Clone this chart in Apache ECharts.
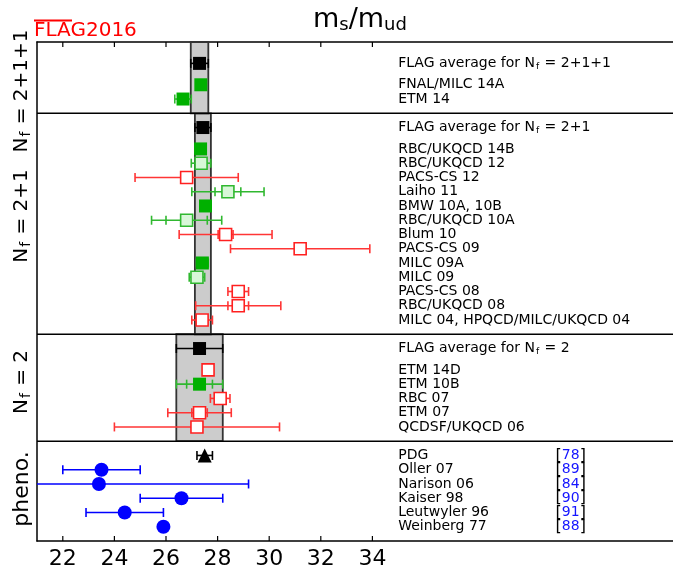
<!DOCTYPE html>
<html><head><meta charset="utf-8">
<script src="https://cdn.jsdelivr.net/npm/echarts@6/dist/echarts.min.js"></script>
<style>html,body{margin:0;padding:0;background:#fff}#c{width:673px;height:572px}</style>
</head><body><div id="c"></div>
<script>
// ---------------- data ----------------
const xTicks = [22, 24, 26, 28, 30, 32, 34];

const phenoNames  = ["PDG", "Oller 07", "Narison 06", "Kaiser 98", "Leutwyler 96", "Weinberg 77"];
const phenoValues = [27.5, 23.5, 23.4, 26.6, 24.4, 25.9];
const phenoErr    = [0.3, 1.5, 5.8, 1.6, 1.5, 0];
const phenoRefs   = ["78", "89", "84", "90", "91", "88"];

const nf2Names   = ["ETM 14D", "ETM 10B", "RBC 07", "ETM 07", "QCDSF/UKQCD 06"];
const nf2Values  = [27.63, 27.3, 28.1, 27.3, 27.2];
const nf2ErrStat = [0, 0.5, 0, 0.3, 0];
const nf2ErrTot  = [0.13, 0.9, 0.38, 1.23, 3.2];
const nf2Kind    = ["R", "G", "R", "R", "R"];
const nf2Avg     = [27.3, 0.9];

const nf21Names   = ["RBC/UKQCD 14B", "RBC/UKQCD 12", "PACS-CS 12", "Laiho 11", "BMW 10A, 10B",
                     "RBC/UKQCD 10A", "Blum 10", "PACS-CS 09", "MILC 09A", "MILC 09",
                     "PACS-CS 08", "RBC/UKQCD 08", "MILC 04, HPQCD/MILC/UKQCD 04"];
const nf21Values  = [27.34, 27.36, 26.8, 28.4, 27.53, 26.8, 28.31, 31.2, 27.41, 27.2, 28.8, 28.8, 27.4];
const nf21ErrStat = [0, 0, 0, 0.5, 0, 0.8, 0.29, 0, 0, 0, 0, 0.4, 0];
const nf21ErrTot  = [0.21, 0.38, 2.0, 1.4, 0.22, 1.36, 1.8, 2.7, 0.23, 0.3, 0.4, 1.65, 0.4];
const nf21Kind    = ["G", "L", "R", "L", "G", "L", "R", "R", "G", "L", "R", "R", "R"];
const nf21Avg     = [27.43, 0.31];

const nf211Names   = ["FNAL/MILC 14A", "ETM 14"];
const nf211Values  = [27.35, 26.66];
const nf211ErrStat = [0, 0];
const nf211ErrTot  = [0.08, 0.32];
const nf211Kind    = ["G", "G"];
const nf211Avg     = [27.30, 0.34];

// ---------------- layout / styling ----------------
const FONT = "DejaVu Sans";
const COL = {
  R: {fill: "#ffffff", border: "#ff2020", err: "#ff3535"},
  G: {fill: "#00b000", border: "#00b000", err: "#30b830"},
  L: {fill: "#d8f7d8", border: "#30b830", err: "#30b830"},
  K: {fill: "#000000", border: "#000000", err: "#000000"},
  B: {fill: "#0000ff", border: "#0000ff", err: "#0000ff"}
};
const palette = ["R", "G", "L", "K", "B"];

const LABEL_X = 35.0, REF_X = 41.1;

const errData = [], markers = {R: [], G: [], L: [], K: [], B: [], P: []};
const labels = [], bands = [], seps = [];

function addErr(v, y, et, es, kind) {
  errData.push([v, y, et || 0, es || 0, palette.indexOf(kind)]);
}

// pheno (bottom group)
let y = 0;
const phenoY = [];
for (let i = phenoNames.length - 1; i >= 0; i--) { y += 1; phenoY[i] = y; }
phenoNames.forEach((n, i) => {
  const k = i === 0 ? "K" : "B";
  if (phenoErr[i] > 0) addErr(phenoValues[i], phenoY[i], phenoErr[i], 0, k);
  (i === 0 ? markers.P : markers.B).push([phenoValues[i], phenoY[i]]);
  labels.push({x: LABEL_X, y: phenoY[i], text: n});
  labels.push({x: REF_X, y: phenoY[i], text: "{b|[}{n|" + phenoRefs[i] + "}{b|]}"});
});
let sep = y + 1;
seps.push(sep);

function addGroup(names, vals, es, et, kinds, avg, avgText, last) {
  const start = sep;
  let yy = sep;
  const ys = [];
  for (let i = names.length - 1; i >= 0; i--) { yy += 1; ys[i] = yy; }
  names.forEach((n, i) => {
    addErr(vals[i], ys[i], et[i], es[i], kinds[i]);
    markers[kinds[i]].push([vals[i], ys[i]]);
    labels.push({x: LABEL_X, y: ys[i], text: n});
  });
  const ay = yy + 1.5;
  addErr(avg[0], ay, avg[1], 0, "K");
  markers.K.push([avg[0], ay]);
  labels.push({x: LABEL_X, y: ay, text: "FLAG average for N{s|f}" + avgText});
  const end = last ? ay + 1.5 : ay + 1;
  bands.push([avg[0] - avg[1], avg[0] + avg[1], start, end]);
  if (!last) seps.push(end);
  sep = end;
}
addGroup(nf2Names, nf2Values, nf2ErrStat, nf2ErrTot, nf2Kind, nf2Avg, " = 2", false);
addGroup(nf21Names, nf21Values, nf21ErrStat, nf21ErrTot, nf21Kind, nf21Avg, " = 2+1", false);
addGroup(nf211Names, nf211Values, nf211ErrStat, nf211ErrTot, nf211Kind, nf211Avg, " = 2+1+1", true);
const Y_MAX = sep;

// ---------------- chart ----------------
const chart = echarts.init(document.getElementById("c"), null, {renderer: "canvas"});

function renderErr(params, api) {
  const c = api.value(0), yv = api.value(1), et = api.value(2), es = api.value(3);
  const color = COL[palette[api.value(4)]].err;
  const kids = [], cap = 4.5, lw = 1.6;
  function bar(e, line) {
    const a = api.coord([c - e, yv]), b = api.coord([c + e, yv]);
    if (line) kids.push({type: "line", shape: {x1: a[0], y1: a[1], x2: b[0], y2: b[1]}, style: {stroke: color, lineWidth: lw}});
    kids.push({type: "line", shape: {x1: a[0], y1: a[1] - cap, x2: a[0], y2: a[1] + cap}, style: {stroke: color, lineWidth: lw}});
    kids.push({type: "line", shape: {x1: b[0], y1: b[1] - cap, x2: b[0], y2: b[1] + cap}, style: {stroke: color, lineWidth: lw}});
  }
  if (et > 0) bar(et, true);
  if (es > 0) bar(es, false);
  return {type: "group", children: kids};
}

function renderBand(params, api) {
  const p1 = api.coord([api.value(0), api.value(3)]);
  const p2 = api.coord([api.value(1), api.value(2)]);
  return {type: "rect", shape: {x: p1[0], y: p1[1], width: p2[0] - p1[0], height: p2[1] - p1[1]},
          style: {fill: "#cccccc", stroke: "#333333", lineWidth: 1.8}};
}

function renderSep(params, api) {
  const cs = params.coordSys;
  const p = api.coord([21, api.value(0)]);
  return {type: "line", shape: {x1: cs.x, y1: p[1], x2: cs.x + cs.width, y2: p[1]},
          style: {stroke: "#000", lineWidth: 1.5}};
}

function renderTick(params, api) {
  const cs = params.coordSys;
  const x = api.coord([api.value(0), 0])[0];
  const st = {stroke: "#000", lineWidth: 1.2};
  return {type: "group", children: [
    {type: "line", shape: {x1: x, y1: cs.y, x2: x, y2: cs.y + 5}, style: st},
    {type: "line", shape: {x1: x, y1: cs.y + cs.height, x2: x, y2: cs.y + cs.height - 5}, style: st}
  ]};
}

function renderLabel(params, api) {
  const L = labels[params.dataIndex];
  const p = api.coord([L.x, L.y]);
  return {type: "text", x: p[0], y: p[1],
          style: {text: L.text, x: 0, y: 0, align: "left", verticalAlign: "middle",
                  fontFamily: FONT, fontSize: 14, fill: "#000",
                  rich: {
                    s: {fontFamily: FONT, fontSize: 9, padding: [6, 1, 0, 1]},
                    b: {fontFamily: FONT, fontSize: 16, fill: "#000"},
                    n: {fontFamily: FONT, fontSize: 14, fill: "#1515ff"}
                  }}};
}

function scatter(data, symbol, size, k, z) {
  return {type: "scatter", data: data, symbol: symbol, symbolSize: size, z: z || 6,
          itemStyle: {color: COL[k].fill, borderColor: COL[k].border, borderWidth: k === "R" || k === "L" ? 1.6 : 0, opacity: 1},
          emphasis: {disabled: true}, silent: true};
}

const axisCommon = {
  type: "value", min: 21, max: 46,
  axisLine: {show: true, lineStyle: {color: "#000", width: 1.5}},
  axisTick: {show: false},
  splitLine: {show: false}
};

chart.setOption({
  animation: false,
  backgroundColor: "#fff",
  grid: {left: 37, width: 645, top: 42, height: 499, containLabel: false, outerBoundsMode: "none"},
  xAxis: [
    Object.assign({}, axisCommon, {position: "bottom",
      axisLabel: {show: true, customValues: xTicks, fontFamily: FONT, fontSize: 22, color: "#000", margin: 7}}),
    Object.assign({}, axisCommon, {position: "top", axisLabel: {show: false}})
  ],
  yAxis: {type: "value", min: 0, max: Y_MAX, axisLine: {show: true, lineStyle: {color: "#000", width: 1.5}},
          axisTick: {show: false}, axisLabel: {show: false}, splitLine: {show: false}},
  series: [
    {type: "custom", renderItem: renderBand, data: bands, z: 1, silent: true},
    {type: "custom", renderItem: renderSep, data: seps.map(s => [s]), z: 3, silent: true, clip: false},
    {type: "custom", renderItem: renderTick, data: xTicks.map(t => [t]), z: 3, silent: true, clip: false},
    {type: "custom", renderItem: renderErr, data: errData, z: 4, silent: true, clip: true},
    scatter(markers.K, "rect", 13, "K"),
    scatter(markers.G, "rect", 13, "G"),
    scatter(markers.L, "rect", 12, "L"),
    scatter(markers.R, "rect", 12, "R"),
    scatter(markers.B, "circle", 14, "B"),
    scatter(markers.P, "triangle", 14, "K"),
    {type: "custom", renderItem: renderLabel, data: labels.map(l => [l.x, l.y]), z: 7, silent: true, clip: false}
  ],
  graphic: [
    {type: "text", x: 360, y: 20, style: {text: "m{s|s}/m{s|ud}", align: "center", verticalAlign: "middle",
      fontFamily: FONT, fontSize: 27, fill: "#000", rich: {s: {fontFamily: FONT, fontSize: 18, padding: [10, 0, 0, 0]}}}},
    {type: "text", x: 34, y: 31, style: {text: "FLAG2016", align: "left", verticalAlign: "middle",
      fontFamily: FONT, fontSize: 20, fill: "#ff0000"}},
    {type: "line", shape: {x1: 34, y1: 20.5, x2: 72, y2: 20.5}, style: {stroke: "#ff0000", lineWidth: 2}},
    {type: "text", x: 22, y: 91, rotation: Math.PI / 2, style: {text: "N{s|f} = 2+1+1", align: "center", verticalAlign: "middle",
      fontFamily: FONT, fontSize: 20, fill: "#000", rich: {s: {fontFamily: FONT, fontSize: 14, padding: [8, 1, 0, 1]}}}},
    {type: "text", x: 22, y: 216, rotation: Math.PI / 2, style: {text: "N{s|f} = 2+1", align: "center", verticalAlign: "middle",
      fontFamily: FONT, fontSize: 20, fill: "#000", rich: {s: {fontFamily: FONT, fontSize: 14, padding: [8, 1, 0, 1]}}}},
    {type: "text", x: 22, y: 382, rotation: Math.PI / 2, style: {text: "N{s|f} = 2", align: "center", verticalAlign: "middle",
      fontFamily: FONT, fontSize: 20, fill: "#000", rich: {s: {fontFamily: FONT, fontSize: 14, padding: [8, 1, 0, 1]}}}},
    {type: "text", x: 22, y: 489, rotation: Math.PI / 2, style: {text: "pheno.", align: "center", verticalAlign: "middle",
      fontFamily: FONT, fontSize: 22, fill: "#000"}}
  ]
});
</script></body></html>
